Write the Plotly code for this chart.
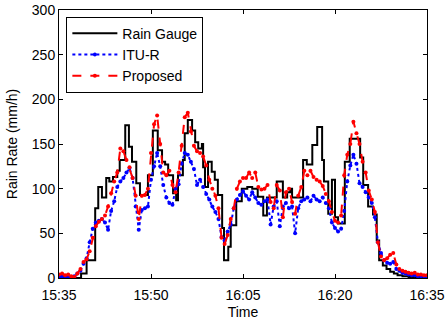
import plotly.graph_objects as go

# time in minutes after 15:35
tick_vals = [0, 15, 30, 45, 60]
tick_text = ["15:35", "15:50", "16:05", "16:20", "16:35"]
y_ticks = [0, 50, 100, 150, 200, 250, 300]

# Rain gauge (step) breakpoints
gauge_t = [0, 3.6, 4.5, 5.9, 6.4, 7.0, 7.7, 8.2, 8.8, 9.5, 9.9, 10.8, 11.4, 11.9, 12.6, 13.2,
           14.5, 15.3, 16.1, 16.8, 17.3, 17.8, 18.6, 19.1, 19.4, 20.2, 20.5, 21.0, 21.7, 22.2,
           22.7, 23.3, 23.5, 23.8, 24.3, 24.9, 25.4, 25.9, 26.6, 26.9, 27.6, 28.0, 28.9, 29.8,
           30.7, 31.5, 32.4, 33.3, 33.9, 34.9, 35.5, 36.5, 37.2, 37.7, 38.0, 39.0, 39.8, 40.4,
           41.3, 42.1, 42.9, 43.2, 43.9, 44.5, 45.0, 45.5, 46.6, 47.4, 49.1, 49.6, 50.4, 51.2,
           51.8, 52.2, 52.8, 53.4, 54.0, 54.6, 55.2, 56.0, 57.0, 58.0, 60.0]
gauge_v = [0, 5, 20, 78, 102, 90, 112, 108, 113, 120, 132, 171, 147, 130, 106, 93,
           115, 165, 143, 130, 127, 115, 95, 87, 115, 132, 162, 177, 165, 152,
           145, 150, 124, 102, 130, 119, 110, 93, 56, 20, 35, 59, 86, 100,
           102, 100, 91, 70, 90, 90, 108, 90, 96, 100, 90, 90, 132, 127,
           149, 169, 132, 108, 72, 110, 68, 61, 130, 156, 135, 104, 80, 71,
           42, 20, 14, 10, 7, 5, 3, 2, 1, 0, 0]

# ITU-R and Proposed every 0.5 min
est_t = [i * 0.5 for i in range(121)]
itu_v = [1, 2, 1, 1, 1, 2, 5, 8, 16, 22, 40, 55, 62, 64, 66, 62, 54, 75, 86, 102,
         108, 112, 118, 123, 112, 80, 54, 76, 78, 80, 110, 125, 140, 125, 104, 90, 84, 82, 100, 105,
         128, 140, 138, 130, 122, 104, 110, 102, 94, 88, 80, 74, 66, 46, 42, 52, 60, 78, 88, 93,
         97, 92, 88, 96, 90, 84, 82, 86, 88, 60, 80, 86, 58, 80, 84, 78, 80, 50, 78, 86,
         88, 90, 86, 92, 88, 86, 90, 84, 78, 62, 56, 52, 55, 75, 108, 126, 138, 128, 106, 102,
         96, 90, 84, 68, 40, 28, 20, 17, 16, 18, 10, 8, 6, 5, 4, 3, 3, 2, 2, 2, 1]
prop_v = [4, 5, 3, 4, 2, 1, 5, 10, 18, 21, 30, 45, 58, 63, 66, 70, 80, 95, 108, 118,
          145, 142, 132, 124, 112, 92, 66, 92, 93, 100, 140, 172, 182, 150, 118, 115, 120, 104, 96, 118,
          148, 180, 185, 164, 148, 142, 140, 136, 126, 110, 100, 92, 78, 45, 38, 48, 66, 78, 100, 108,
          112, 112, 118, 112, 118, 102, 99, 100, 104, 85, 78, 104, 98, 68, 96, 100, 85, 72, 92, 102,
          120, 115, 120, 113, 110, 108, 103, 94, 86, 74, 64, 62, 70, 115, 138, 150, 175, 162, 150, 130,
          118, 98, 88, 74, 40, 24, 20, 22, 26, 28, 15, 10, 8, 7, 6, 5, 6, 4, 4, 3, 3]

FONT = "Liberation Sans, Arial, sans-serif"

fig = go.Figure()
fig.add_trace(go.Scatter(x=gauge_t, y=gauge_v, name="Rain Gauge", mode="lines",
                         line=dict(color="black", width=2, shape="hv")))
fig.add_trace(go.Scatter(x=est_t, y=itu_v, name="ITU-R", mode="lines+markers",
                         line=dict(color="#0000ff", width=2, dash="dot"),
                         marker=dict(size=4, color="#0000ff")))
fig.add_trace(go.Scatter(x=est_t, y=prop_v, name="Proposed", mode="lines+markers",
                         line=dict(color="#ff0000", width=2, dash="dash"),
                         marker=dict(size=4, color="#ff0000")))

axis_common = dict(showline=True, linecolor="black", linewidth=1, mirror="ticks",
                   ticks="inside", ticklen=4, tickcolor="black", showgrid=False, zeroline=False,
                   automargin=False,
                   tickfont=dict(family=FONT, size=14, color="black"))
fig.update_xaxes(range=[0, 60], tickvals=tick_vals, ticktext=tick_text, ticklabelstandoff=4,
                 title=dict(text="Time", font=dict(family=FONT, size=14, color="black"), standoff=5),
                 **axis_common)
fig.update_yaxes(range=[0, 300], tickvals=y_ticks,
                 title=dict(text="Rain Rate (mm/h)", font=dict(family=FONT, size=14, color="black"), standoff=10),
                 **axis_common)
fig.update_layout(width=446, height=322, margin=dict(l=59, r=19, t=10, b=44, autoexpand=False),
                  plot_bgcolor="white", paper_bgcolor="white",
                  legend=dict(x=0.02, y=0.975, xanchor="left", yanchor="top",
                              bordercolor="black", borderwidth=1, bgcolor="white",
                              font=dict(family=FONT, size=14, color="black"),
                              tracegroupgap=0, itemwidth=45))
fig.write_html("out.html")
